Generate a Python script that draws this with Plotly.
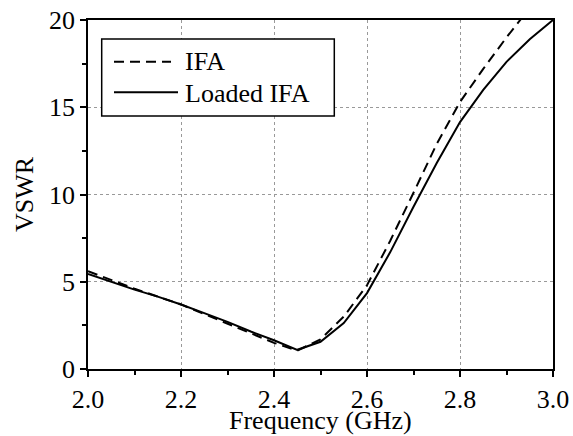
import plotly.graph_objects as go

freq = [2.0, 2.05, 2.1, 2.15, 2.2, 2.25, 2.3, 2.35, 2.4, 2.45, 2.5, 2.55, 2.6,
        2.65, 2.7, 2.75, 2.8, 2.85, 2.9, 2.95, 3.0]
vswr_ifa = [5.6, 5.1, 4.6, 4.15, 3.7, 3.15, 2.62, 2.05, 1.5, 1.05, 1.7, 3.0, 4.8,
            7.35, 10.1, 12.9, 15.3, 17.2, 19.0, 20.7, 22.2]
vswr_loaded = [5.45, 5.0, 4.55, 4.15, 3.7, 3.2, 2.7, 2.15, 1.65, 1.1, 1.56, 2.63, 4.35,
               6.7, 9.3, 11.8, 14.15, 16.0, 17.6, 18.9, 20.0]
series_names = ["IFA", "Loaded IFA"]
x_title = "Frequency (GHz)"
y_title = "VSWR"

FONT = "Times New Roman"
FS = 26
fig = go.Figure()
fig.add_trace(go.Scatter(x=freq, y=vswr_ifa, mode="lines", name=series_names[0],
                         line=dict(color="black", width=2, dash="10px,6px"),
                         showlegend=False))
fig.add_trace(go.Scatter(x=freq, y=vswr_loaded, mode="lines", name=series_names[1],
                         line=dict(color="black", width=2),
                         showlegend=False))

axis_common = dict(
    showline=True, linecolor="black", linewidth=1.5, mirror=True,
    ticks="outside", tickcolor="black", tickwidth=1.5, ticklen=6,
    showgrid=True, gridcolor="#999999", griddash="dot", gridwidth=1,
    zeroline=False,
    tickfont=dict(family=FONT, size=FS, color="black"),
)
fig.update_xaxes(range=[2.0, 3.0], tick0=2.0, dtick=0.2, tickformat=".1f",
                 minor=dict(dtick=0.1, ticks="outside", ticklen=4,
                            tickcolor="black", tickwidth=1.5, showgrid=False),
                 **axis_common)
fig.update_yaxes(range=[0, 20], tick0=0, dtick=5,
                 minor=dict(dtick=2.5, ticks="outside", ticklen=4,
                            tickcolor="black", tickwidth=1.5, showgrid=False),
                 title=dict(text=y_title, font=dict(family=FONT, size=FS, color="black"),
                            standoff=8),
                 **axis_common)

def px2paper_x(px):
    return (px - 88) / 465.0

def px2paper_y(py):
    return (369 - py) / 349.0

# x-axis title placed below the tick labels
fig.add_annotation(xref="paper", yref="paper", x=0.5, y=px2paper_y(420),
                   text=x_title, showarrow=False, xanchor="center", yanchor="middle",
                   font=dict(family=FONT, size=FS, color="black"))

# manual legend (box, line samples, labels)
fig.add_shape(type="rect", xref="paper", yref="paper",
              x0=px2paper_x(101.7), x1=px2paper_x(334.3),
              y0=px2paper_y(116), y1=px2paper_y(39),
              line=dict(color="black", width=1.5), fillcolor="white", layer="above")
fig.add_shape(type="line", xref="paper", yref="paper",
              x0=px2paper_x(114), x1=px2paper_x(171),
              y0=px2paper_y(61.7), y1=px2paper_y(61.7),
              line=dict(color="black", width=2, dash="10px,6px"), layer="above")
fig.add_shape(type="line", xref="paper", yref="paper",
              x0=px2paper_x(114), x1=px2paper_x(178),
              y0=px2paper_y(92.3), y1=px2paper_y(92.3),
              line=dict(color="black", width=2), layer="above")
for name, py in zip(series_names, [61.5, 93.0]):
    fig.add_annotation(xref="paper", yref="paper", x=px2paper_x(183), y=px2paper_y(py),
                       text=name, showarrow=False, xanchor="left", yanchor="middle",
                       font=dict(family=FONT, size=FS, color="black"))

fig.update_layout(
    width=573, height=436,
    margin=dict(l=88, r=20, t=20, b=67, autoexpand=False),
    plot_bgcolor="white", paper_bgcolor="white",
)
fig.write_html("out.html")
